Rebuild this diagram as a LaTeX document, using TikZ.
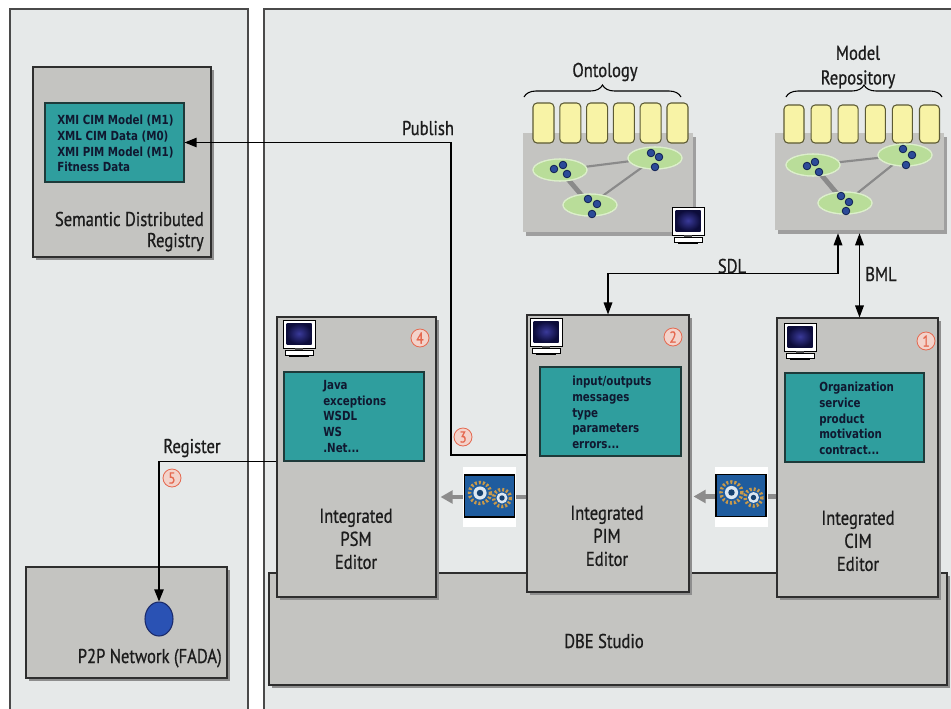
\documentclass[tikz,border=0pt]{standalone}
\usepackage{fontspec}
\setmainfont{PT Sans}[FakeStretch=0.83,FakeBold=0.7]
\newfontfamily\listfont{DejaVu Sans}[FakeStretch=0.82]
\usetikzlibrary{arrows.meta,shadows,fit,calc,shapes.geometric,decorations.pathreplacing}

\definecolor{panelbg}{HTML}{E6E9E9}
\definecolor{panelline}{HTML}{4A4A4A}
\definecolor{boxgray}{HTML}{C4C4C1}
\definecolor{boxline}{HTML}{2E2E2E}
\definecolor{shadowgray}{HTML}{8E8E8E}
\definecolor{tealfill}{HTML}{2F9E9E}
\definecolor{tealline}{HTML}{1E3A3A}
\definecolor{listink}{HTML}{101830}
\definecolor{labelink}{HTML}{1C1C1C}
\definecolor{numred}{HTML}{E5684F}
\definecolor{numfill}{HTML}{F3D3CB}
\definecolor{slotfill}{HTML}{F8F3A6}
\definecolor{slotline}{HTML}{5C5A34}
\definecolor{groupfill}{HTML}{B9DD99}
\definecolor{groupline}{HTML}{DCEFCB}
\definecolor{dotfill}{HTML}{2C4B98}
\definecolor{dotline}{HTML}{0F1F52}
\definecolor{linkgray}{HTML}{8A8A8A}
\definecolor{flowgray}{HTML}{8C8C8C}
\definecolor{screenlo}{HTML}{0C0C3A}
\definecolor{screenhi}{HTML}{3A3A9A}
\definecolor{gearblue}{HTML}{1F5C9E}
\definecolor{gearteeth}{HTML}{C99A4A}
\definecolor{peerblue}{HTML}{2A52B4}
\definecolor{peerline}{HTML}{1A2A6A}

\begin{document}
\begin{tikzpicture}[x=0.75pt, y=-0.75pt,
  panelborder/.style={draw=panelline, line width=0.8pt},
  box/.style={draw=boxline, fill=boxgray, line width=0.8pt, inner sep=0pt,
    drop shadow={shadow xshift=2.5pt, shadow yshift=-2.5pt, fill=shadowgray, opacity=1}},
  store/.style={fill=boxgray, inner sep=0pt,
    drop shadow={shadow xshift=2pt, shadow yshift=-3pt, fill=shadowgray!85, opacity=1}},
  listbox/.style={draw=tealline, fill=tealfill, line width=0.8pt, inner sep=0pt},
  listtxt/.style={font=\listfont\bfseries\fontsize{9.4}{11.8}\selectfont, text=listink,
    align=left, inner sep=0pt, anchor=north west},
  lbltxt/.style={font=\fontsize{15}{17.3}\selectfont, text=labelink, inner sep=0pt},
  numtag/.style={circle, draw=numred, fill=numfill, text=numred, line width=0.6pt, inner sep=0pt,
    minimum size=13.5pt, font=\fontsize{12}{12}\selectfont},
  conn/.style={draw=black, line width=0.9pt, -{Triangle[length=9pt,width=7pt]}},
  bothconn/.style={draw=black, line width=0.9pt,
    {Triangle[length=9pt,width=6.5pt]}-{Triangle[length=9pt,width=6.5pt]}},
  flow/.style={draw=flowgray, line width=3.6pt, -{Triangle[length=9pt,width=9.5pt]}},
  slot/.style={fill=slotfill, draw=slotline, line width=0.8pt, rounded corners=3pt},
  grp/.style={fill=groupfill, draw=groupline, line width=0.8pt},
  blob/.style={fill=dotfill, draw=dotline, line width=0.6pt},
  thinlink/.style={draw=linkgray, line width=1.6pt},
  thicklink/.style={draw=linkgray, line width=3.6pt},
  bracket/.style={draw=black, line width=0.8pt, decorate, decoration={brace, amplitude=9pt}},
  gearslot/.style={inner sep=0pt},
  monitor/.pic={
    \fill[white] (0,0) rectangle (32,28);
    \shade[inner color=screenhi, outer color=screenlo] (3.5,3) rectangle (28.5,24);
    \draw[black, line width=0.7pt] (0,0) rectangle (32,28);
    \fill[black!70] (12,28) rectangle (20,31);
    \fill[white] (2,30) rectangle (30,35);
    \draw[black, line width=0.7pt] (2,30) rectangle (30,35);
    \draw[black, line width=1.2pt] (6,36.5) -- (26,36.5);
  },
  gears/.pic={
    \fill[white] (-26.5,-30) rectangle (26.5,30);
    \fill[gearblue] (-25,-22) rectangle (25,20);
    \draw[black, line width=0.8pt] (-25,-22) rectangle (25,20);
    \foreach \gx/\gy/\gr in {-9.5/-4/12, 12.5/1/10} {
      \draw[gearteeth, line width=2.6pt, dash pattern=on 1.5pt off 1.5pt]
        (\gx,\gy) circle[radius=\gr-1.5];
      \fill[white!85!gearblue] (\gx,\gy) circle[radius=0.55*\gr];
      \fill[gearblue!70!black] (\gx,\gy) circle[radius=0.27*\gr];
    }
  }
]
\useasboundingbox (0,0) rectangle (951,708);
\fill[white] (0,0) rectangle (951,708);

% the two outer panels
\fill[panelbg] (10,9) rectangle (248,712);
\draw[panelborder] (10,712) -- (10,9) -- (248,9) -- (248,712);
\fill[panelbg] (264,9) rectangle (955,712);
\draw[panelborder] (264,712) -- (264,9) -- (955,9);

% ---------- left side: registry and P2P network ----------
\node[box, fit={(33,67) (211,257)}] (registry) {};
\node[listbox, fit={(45,103) (184,182)}] (regbox) {};
\node[listtxt] (reglist) at (57,115)
  {XMI CIM Model (M1)\\XML CIM Data (M0)\\XMI PIM Model (M1)\\Fitness Data};
\node[lbltxt, align=right, anchor=north east,
  font=\fontsize{15}{15.8}\selectfont] (regname) at (204,211.5)
  {Semantic Distributed\\Registry};

\node[box, fit={(26,567) (227,678)}] (p2p) {};
\node[ellipse, fill=peerblue, draw=peerline, line width=0.8pt,
  minimum width=21pt, minimum height=25.5pt, inner sep=0pt] (peer) at (159,619) {};
\node[lbltxt, anchor=base east] (p2pname) at (222,663) {P2P Network (FADA)};

% ---------- DBE studio and the three editors ----------
\node[box, fit={(269,573) (947,685)}] (dbe) {};
\node[lbltxt, anchor=base] (dbename) at (604,648) {DBE Studio};

\node[box, fit={(277,317) (436,597)}] (psm) {};
\node[box, fit={(527,315) (689,592)}] (pim) {};
\node[box, fit={(777,318) (938,597)}] (cim) {};

\node[listbox, fit={(284,372) (424,461)}] (psmlist) {};
\node[listbox, fit={(540,367) (681,456)}] (pimlist) {};
\node[listbox, fit={(785,373) (924,462)}] (cimlist) {};

\node[listtxt] (psmitems) at (323,380) {Java\\exceptions\\WSDL\\WS\\.Net...};
\node[listtxt] (pimitems) at (572,376) {input/outputs\\messages\\type\\parameters\\errors...};
\node[listtxt] (cimitems) at (819,382) {Organization\\service\\product\\motivation\\contract...};

\node[lbltxt, align=center, anchor=north] (psmname) at (356,508.5) {Integrated\\PSM\\Editor};
\node[lbltxt, align=center, anchor=north] (pimname) at (607,505.5) {Integrated\\PIM\\Editor};
\node[lbltxt, align=center, anchor=north] (cimname) at (858,510.5) {Integrated\\CIM\\Editor};

\pic at (283,320) {monitor};
\pic at (530,318) {monitor};
\pic at (784,323) {monitor};

\node[numtag] (n4) at (420,338) {4};
\node[numtag] (n2) at (673,337) {2};
\node[numtag] (n1) at (926,341) {1};

% ---------- ontology and model repository ----------
\node[store, fit={(523,133) (693,232)}] (onto) {};
\foreach \i in {0,...,5} \draw[slot] ({533+26.8*\i},103) rectangle ++(21,40);
\draw[thinlink] (560,170) -- (655,158);
\draw[thinlink] (590,205) -- (655,158);
\draw[thicklink] (560,170) -- (590,205);
\foreach \cx/\cy/\ax/\ay/\bx/\by/\ccx/\ccy in
  {560/170/-6/-1/3/-5/7/4, 655/158/-4/-5/4/-1/0/9, 590/205/-2/-6/7/-1/2/9} {
  \fill[grp] (\cx,\cy) ellipse [x radius=27, y radius=11];
  \draw[grp, fill=none] (\cx,\cy) ellipse [x radius=27, y radius=11];
  \foreach \dx/\dy in {\ax/\ay, \bx/\by, \ccx/\ccy}
    \draw[blob] ({\cx+\dx},{\cy+\dy}) circle[radius=3.8];
}
\draw[bracket] (524,97) -- (681,97);
\node[lbltxt, anchor=base] (ontoname) at (605,77) {Ontology};
\pic at (672,207) {monitor};

\node[store, fit={(775,133) (944,230)}] (repo) {};
\foreach \i in {0,...,5} \draw[slot] ({784+27.1*\i},105) rectangle ++(20,38);
\draw[thinlink] (813,165) -- (905,155);
\draw[thinlink] (845,203) -- (905,155);
\draw[thicklink] (813,165) -- (845,203);
\foreach \cx/\cy/\ax/\ay/\bx/\by/\ccx/\ccy in
  {813/165/-6/1/2/-3/6/7, 905/155/-2/-6/7/0/1/10, 845/203/-4/-7/4/-1/1/8} {
  \fill[grp] (\cx,\cy) ellipse [x radius=27, y radius=11];
  \draw[grp, fill=none] (\cx,\cy) ellipse [x radius=27, y radius=11];
  \foreach \dx/\dy in {\ax/\ay, \bx/\by, \ccx/\ccy}
    \draw[blob] ({\cx+\dx},{\cy+\dy}) circle[radius=3.8];
}
\draw[bracket] (786,97) -- (942,97);
\node[lbltxt, align=center, anchor=north, font=\fontsize{15}{18.5}\selectfont]
  (reponame) at (858,45.5) {Model\\Repository};

% ---------- transformations between editors ----------
\node[gearslot, fit={(463,467) (516,527)}] (gear1) {};
\node[gearslot, fit={(715,466) (767,527)}] (gear2) {};
\draw[flow] (pim.west |- gear1) -- ($(psm.east |- gear1)+(4,0)$);
\draw[flow] (cim.west |- gear2) -- ($(pim.east |- gear2)+(4,0)$);
\pic at (gear1.center) {gears};
\pic at (gear2.center) {gears};

% ---------- connectors ----------
\coordinate (pubbend) at (451,455);
\draw[conn] (pim.west |- pubbend) -- (pubbend) |- (regbox.east);
\node[lbltxt, anchor=base] (publish) at (428,135) {Publish};
\node[numtag] (n3) at (463,437) {3};

\draw[conn] (psmlist.south -| psm.west) -| (peer.north);
\node[lbltxt, anchor=base] (register) at (192,453) {Register};
\node[numtag] (n5) at (172,478) {5};

\draw[bothconn] ($(repo.south)+(-21.5,3)$) -- ++(0,40) -| (pim.north);
\node[lbltxt, anchor=base] (sdl) at (732,273) {SDL};

\draw[bothconn] ($(repo.south -| cim.north)+(2,3)$) -- ($(cim.north)+(2,0)$);
\node[lbltxt, anchor=base] (bml) at (881,281) {BML};
\end{tikzpicture}
\end{document}
